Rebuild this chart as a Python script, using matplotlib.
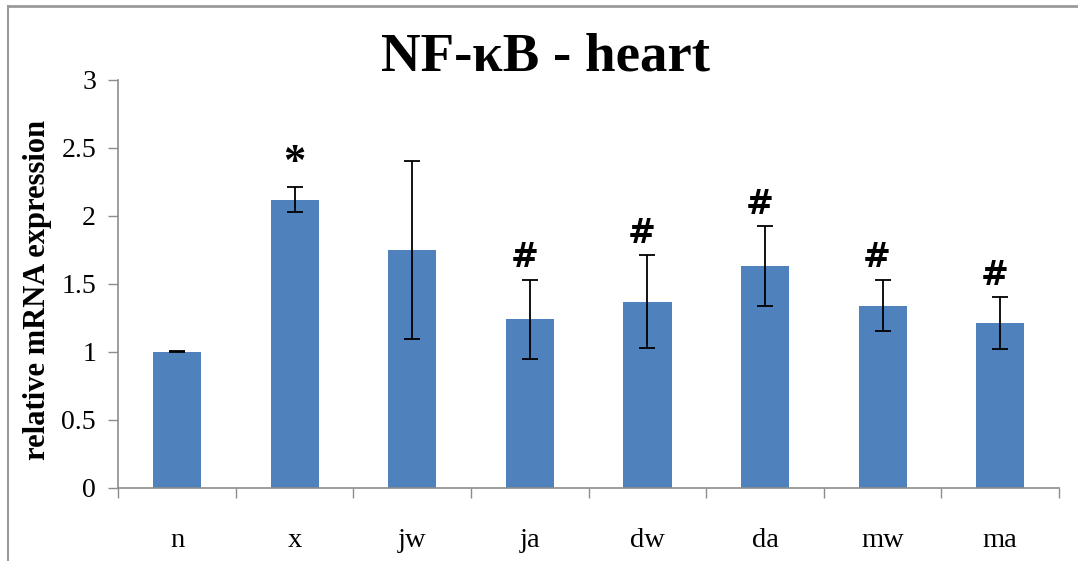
import matplotlib.pyplot as plt
from matplotlib.lines import Line2D

plt.rcParams.update({
    "font.family": "serif",
    "font.serif": ["Liberation Serif", "DejaVu Serif"]})

groups = ["n", "x", "jw", "ja", "dw", "da", "mw", "ma"]
means = [1.00, 2.12, 1.75, 1.24, 1.37, 1.63, 1.34, 1.21]
errs = [0.003, 0.095, 0.655, 0.29, 0.34, 0.295, 0.19, 0.19]
marks = ["", "*", "", "#", "#", "#", "#", "#"]

fig = plt.figure(figsize=(10.78, 5.61), dpi=100)
ax = fig.add_axes([0.1097, 0.1307, 0.8727, 0.7267])

pos = list(range(len(groups)))
ax.bar(pos, means, width=0.41, color="#4F81BD", zorder=2)
ax.errorbar(pos, means, yerr=errs, fmt="none", ecolor="black",
            elinewidth=1.3, capsize=5.5, capthick=1.3, zorder=3)

# significance marks above the error bars
for p, m, e, s in zip(pos, means, errs, marks):
    if not s:
        continue
    if s == "#":
        ax.annotate(s, (p, m + e), xytext=(-4, 4), textcoords="offset points",
                    ha="center", va="bottom", fontsize=24, fontweight="bold",
                    family=["DejaVu Sans"])
    else:
        ax.annotate(s, (p, m + e), xytext=(0, 3), textcoords="offset points",
                    ha="center", va="bottom", fontsize=32, fontweight="bold")

ax.set_xlim(-0.5, len(groups) - 0.5)
ax.set_ylim(0, 3)
ax.set_yticks([0, 0.5, 1, 1.5, 2, 2.5, 3])
ax.set_yticklabels(["0", "0.5", "1", "1.5", "2", "2.5", "3"])

# category ticks on boundaries, labels in the middle
ax.set_xticks([i - 0.5 for i in range(len(groups) + 1)])
ax.set_xticklabels([])
ax.set_xticks(pos, minor=True)
ax.set_xticklabels(groups, minor=True)
ax.tick_params(axis="x", which="major", length=7, color="#8c8c8c", width=1)
ax.tick_params(axis="x", which="minor", length=0, pad=29, labelsize=20.5)
ax.tick_params(axis="y", length=7, color="#8c8c8c", width=1, pad=9,
               labelsize=20)

for side in ["top", "right"]:
    ax.spines[side].set_visible(False)
for side in ["left", "bottom"]:
    ax.spines[side].set_color("#8c8c8c")
    ax.spines[side].set_linewidth(1.2)

ax.set_ylabel("relative mRNA expression", fontsize=22, fontweight="bold")
ax.yaxis.set_label_coords(-0.07, 0.485)

fig.text(0.506, 0.898, "NF-κB - heart", ha="center", va="center",
         fontsize=39.5, fontweight="bold")

# chart frame (partly cropped)
fig.add_artist(Line2D([8 / 1078, 1], [1 - 5.5 / 561, 1 - 5.5 / 561],
                      transform=fig.transFigure, color="#9a9a9a", lw=2))
fig.add_artist(Line2D([8 / 1078, 8 / 1078], [0, 1 - 5.5 / 561],
                      transform=fig.transFigure, color="#9a9a9a", lw=1.5))

fig.savefig("out.png", dpi=100)
